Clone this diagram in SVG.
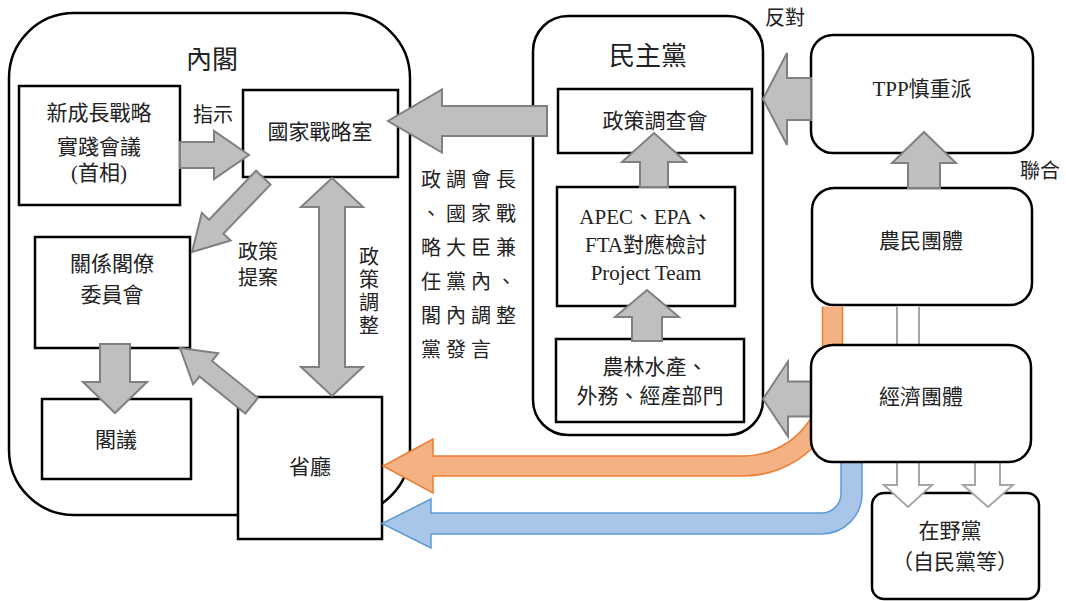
<svg xmlns="http://www.w3.org/2000/svg" width="1066" height="601" viewBox="0 0 1066 601">
<style>
.box{fill:#fff;stroke:#000;stroke-width:2.5}
.t{font-family:"Liberation Serif","Noto Sans CJK TC",serif;font-size:21px;fill:#222;text-anchor:middle;dominant-baseline:central}
.title{font-size:26px}
.ga{fill:#bfbfbf;stroke:#808080;stroke-width:2;stroke-linejoin:miter}
.oa{fill:#fff;stroke:#a6a6a6;stroke-width:2}
.or{fill:#f4b183;stroke:#ed7d31;stroke-width:1.5}
.bl{fill:#a9c6e8;stroke:#5b9bd5;stroke-width:1.5}
.lab{font-family:"Liberation Serif","Noto Sans CJK TC",serif;font-size:20px;fill:#222}
</style>
<rect width="1066" height="601" fill="#fff"/>
<g id="cabinet">
<rect class="box" x="9" y="13" width="401" height="502" rx="65"/>
<text class="t title" x="212" y="60">內閣</text>
</g>
<g id="dpj">
<rect class="box" x="533" y="16" width="230" height="419" rx="35"/>
<text class="t title" x="648" y="56">民主黨</text>
</g>
<g id="growth">
<rect class="box" x="19" y="86" width="161" height="119"/>
<text class="t" x="99" y="113">新成長戰略</text>
<text class="t" x="99" y="147">實踐會議</text>
<text class="t" x="99" y="173">(首相)</text>
</g>
<g id="nsr">
<rect class="box" x="243" y="90" width="155" height="87"/>
<text class="t" x="320" y="132">國家戰略室</text>
</g>
<g id="ministers">
<rect class="box" x="35" y="237" width="155" height="111"/>
<text class="t" x="112" y="264">關係閣僚</text>
<text class="t" x="112" y="295">委員會</text>
</g>
<g id="kakugi">
<rect class="box" x="42" y="399" width="149" height="80"/>
<text class="t" x="116" y="440">閣議</text>
</g>
<g id="ministries">
<rect class="box" x="238" y="397" width="144" height="142"/>
<text class="t" x="310" y="467">省廳</text>
</g>
<g id="prc">
<rect class="box" x="558" y="89" width="194" height="64"/>
<text class="t" x="655" y="121">政策調查會</text>
</g>
<g id="pt">
<rect class="box" x="557" y="187" width="178" height="119"/>
<text class="t" x="646" y="217">APEC、EPA、</text>
<text class="t" x="646" y="245">FTA對應檢討</text>
<text class="t" x="646" y="273">Project Team</text>
</g>
<g id="sections">
<rect class="box" x="556" y="339" width="188" height="83"/>
<text class="t" x="655" y="367">農林水產、</text>
<text class="t" x="650" y="396">外務、經產部門</text>
</g>
<g id="tpp">
<rect class="box" x="811" y="35" width="222" height="118" rx="22"/>
<text class="t" x="922" y="89">TPP慎重派</text>
</g>
<g id="farmers">
<rect class="box" x="812" y="188" width="220" height="117" rx="22"/>
<text class="t" x="921" y="241">農民團體</text>
</g>
<g id="opposition">
<rect class="box" x="872" y="493" width="167" height="106" rx="12"/>
<text class="t" x="950" y="531">在野黨</text>
<text class="t" x="955" y="562">（自民黨等）</text>
</g>
<g id="connectors">
<path class="or" d="M822.5,306.5 L822.5,377 A79,79 0 0 1 743.5,456 L433,456 L433,439 L383,466 L433,493 L433,476 L743.5,476 A99,99 0 0 0 842.5,377 L842.5,306.5"/>
<path class="bl" d="M841,462 L841,493.5 A19.5,19.5 0 0 1 821.5,513 L431,513 L431,499 L382,523.5 L431,548 L431,534 L821.5,534 A40.5,40.5 0 0 0 862,493.5 L862,462"/>
<path class="oa" d="M897,306.5 L897,485 L884,485 L908,507 L932,485 L919,485 L919,306.5"/>
<path class="oa" d="M975,462 L975,485 L963,485 L988,507 L1013,485 L1000,485 L1000,462"/>
<polygon class="ga" points="180,142 214,142 214,131 249,155 214,179 214,168 180,168"/>
<polygon class="ga" points="547,106 442,106 442,89.5 388,121 442,152.5 442,136 547,136"/>
<polygon class="ga" points="332,178 363,207 345,207 345,367 363,367 332,396 301,367 319,367 319,207 301,207"/>
<polygon class="ga" points="100,344 130,344 130,382 147,382 115,413 83,382 100,382"/>
<polygon class="ga" transform="translate(192,252) rotate(133.8)" points="-103,-10 -35,-10 -35,-20 0,0 -35,20 -35,10 -103,10"/>
<polygon class="ga" transform="translate(180,348) rotate(218.9)" points="-92,-10 -33,-10 -33,-20 0,0 -33,20 -33,10 -92,10"/>
<polygon class="ga" points="654,133 686,162 668,162 668,187 640,187 640,162 622,162"/>
<polygon class="ga" points="647,290 679,317 662,317 662,341 632,341 632,317 615,317"/>
<polygon class="ga" points="811,78 787,78 787,53 763,99 787,145 787,120 811,120"/>
<polygon class="ga" points="811,381.5 788,381.5 788,361.5 763,399 788,436.5 788,416.5 811,416.5"/>
<polygon class="ga" points="924,132 956,163 940,163 940,188 908,188 908,163 892,163"/>
<text class="lab" x="213" y="122" text-anchor="middle">指示</text>
<text class="lab" x="258" y="259" text-anchor="middle">政策</text>
<text class="lab" x="258" y="285" text-anchor="middle">提案</text>
<g class="lab" text-anchor="middle">
<text x="369" y="264">政</text>
<text x="369" y="287">策</text>
<text x="369" y="310">調</text>
<text x="369" y="333">整</text>
</g>
<g class="lab" letter-spacing="5">
<text x="421" y="187">政調會長</text>
<text x="421" y="221">、國家戰</text>
<text x="421" y="255">略大臣兼</text>
<text x="421" y="289">任黨內、</text>
<text x="421" y="323">閣內調整</text>
<text x="421" y="357">黨發言</text>
</g>
<text class="lab" x="785" y="25" text-anchor="middle">反對</text>
<text class="lab" x="1040" y="178" text-anchor="middle">聯合</text>
</g>
<g id="economic">
<rect class="box" x="811" y="345" width="220" height="117" rx="22"/>
<text class="t" x="921" y="397">經濟團體</text>
</g>
</svg>
